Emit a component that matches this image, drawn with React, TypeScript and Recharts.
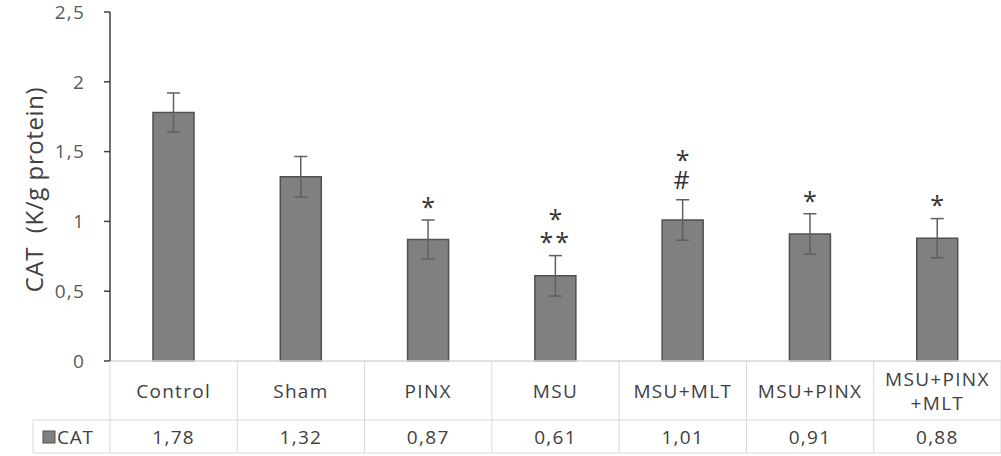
import React from 'react';
import { BarChart, Bar, XAxis, YAxis, ErrorBar, LabelList } from 'recharts';

const categories = ['Control', 'Sham', 'PINX', 'MSU', 'MSU+MLT', 'MSU+PINX', 'MSU+PINX\n+MLT'];
const catValues = [1.78, 1.32, 0.87, 0.61, 1.01, 0.91, 0.88];
const catErrors = [0.14, 0.145, 0.14, 0.145, 0.145, 0.145, 0.14];
const significance = ['', '', '*', '*\n**', '*\n#', '*', '*'];
const yTicks = [0, 0.5, 1, 1.5, 2, 2.5];
const seriesName = 'CAT';
const yAxisTitle = 'CAT\u00a0\u00a0(K/g protein)';

const data = categories.map((c, i) => ({ cat: c, value: catValues[i], err: catErrors[i], note: significance[i] }));

const W = 1001;
const H = 456;
const LEFT = 110;
const TOP = 12;
const XAXIS_H = 95;
const BAND = (W - LEFT) / categories.length;
const AXIS_Y = H - XAXIS_H;
const GRID = '#d9d9d9';
const TEXT = '#404040';
const FONT = '"Open Sans", sans-serif';

const fmt = (v: number) => String(v).replace('.', ',');

const XTick = (props: any) => {
  const { x, payload } = props;
  const i = payload.index;
  const lines = String(payload.value).split('\n');
  const left = x - BAND / 2;
  const right = x + BAND / 2;
  const rowSep = AXIS_Y + 59;
  const bottom = AXIS_Y + 92;
  const labelMid = AXIS_Y + 30;
  const valueMid = AXIS_Y + 76;
  const lh = 24;
  return (
    <g>
      <line x1={right} y1={AXIS_Y} x2={right} y2={bottom} stroke={GRID} strokeWidth={1} />
      {i === 0 && <line x1={left} y1={AXIS_Y} x2={left} y2={bottom} stroke={GRID} strokeWidth={1} />}
      <line x1={left} y1={rowSep} x2={right} y2={rowSep} stroke={GRID} strokeWidth={1} />
      <line x1={left} y1={bottom} x2={right} y2={bottom} stroke={GRID} strokeWidth={1} />
      {i === 0 && (
        <g>
          <line x1={left - 77} y1={rowSep} x2={left} y2={rowSep} stroke={GRID} strokeWidth={1} />
          <line x1={left - 77} y1={bottom} x2={left} y2={bottom} stroke={GRID} strokeWidth={1} />
          <line x1={left - 77} y1={rowSep} x2={left - 77} y2={bottom} stroke={GRID} strokeWidth={1} />
          <rect x={left - 67} y={valueMid - 6} width={12} height={12} fill="#808080" stroke="#505050" strokeWidth={1} />
          <text x={left - 53} y={valueMid} dominantBaseline="central" fontFamily={FONT} fontSize={19} fill={TEXT} letterSpacing={0.8}>{seriesName}</text>
        </g>
      )}
      {lines.map((ln, k) => (
        <text key={k} x={x} y={labelMid + (k - (lines.length - 1) / 2) * lh} textAnchor="middle" dominantBaseline="central"
          fontFamily={FONT} fontSize={19} fill={TEXT} letterSpacing={1.3}>{ln}</text>
      ))}
      <text x={x} y={valueMid} textAnchor="middle" dominantBaseline="central" fontFamily={FONT} fontSize={19} fill={TEXT} letterSpacing={1.3}>
        {fmt(catValues[i])}
      </text>
    </g>
  );
};

const NoteLabel = (props: any) => {
  const { x, y, width, height, index } = props;
  const note = significance[index];
  if (!note) return null;
  const pxPerUnit = height / catValues[index];
  const errTop = y - catErrors[index] * pxPerUnit;
  const lines = note.split('\n');
  const n = lines.length;
  const hasHash = lines.includes('#');
  const L = hasHash ? 20 : 23;
  const last = lines[n - 1];
  const bottomLineCenter = errTop - (last === '#' ? 20.8 : 13.7);
  const top = bottomLineCenter - (n - 1) * L - L / 2;
  const cx = x + width / 2;
  const boxW = 70;
  return (
    <foreignObject x={cx - boxW / 2} y={top} width={boxW} height={n * L} style={{ overflow: 'visible' }}>
      <div style={{ width: boxW, margin: 0, padding: 0, textAlign: 'center', whiteSpace: 'pre', fontFamily: FONT,
        fontSize: 25, lineHeight: `${L}px`, color: '#333', letterSpacing: 2, textIndent: 2 }}>
        {note}
      </div>
    </foreignObject>
  );
};

const YTitle = (props: any) => {
  const { viewBox } = props;
  const cx = viewBox.x + 33;
  const cy = viewBox.y + viewBox.height / 2 + 3;
  return (
    <text x={cx} y={cy} transform={`rotate(-90 ${cx} ${cy})`} textAnchor="middle" dominantBaseline="central"
      fontFamily={FONT} fontSize={24} fill={TEXT} letterSpacing={0.6}>{yAxisTitle}</text>
  );
};

export default function App() {
  return (
    <div style={{ position: 'absolute', left: 0, top: 0, width: W, height: H, background: '#fff' }}>
      <BarChart width={W} height={H} data={data} margin={{ top: TOP, right: 0, bottom: 0, left: 0 }}>
        <XAxis dataKey="cat" height={XAXIS_H} axisLine={{ stroke: GRID, strokeWidth: 1.5 }} tickLine={false}
          tick={<XTick />} interval={0} />
        <YAxis width={LEFT} domain={[0, 2.5]} ticks={yTicks} tickFormatter={fmt} axisLine={{ stroke: '#404040', strokeWidth: 1.5 }}
          tickLine={{ stroke: '#404040', strokeWidth: 1.5 }} tickSize={6} tickMargin={19}
          tick={{ fontFamily: FONT, fontSize: 19, fill: '#595959', letterSpacing: 1.2 }}
          label={<YTitle />} />
        <Bar dataKey="value" fill="#808080" stroke="#505050" strokeWidth={1.5} barSize={41} isAnimationActive={false}>
          <ErrorBar dataKey="err" width={6.5} stroke="#606060" strokeWidth={1.5} direction="y" />
          <LabelList dataKey="note" content={<NoteLabel />} />
        </Bar>
      </BarChart>
    </div>
  );
}
